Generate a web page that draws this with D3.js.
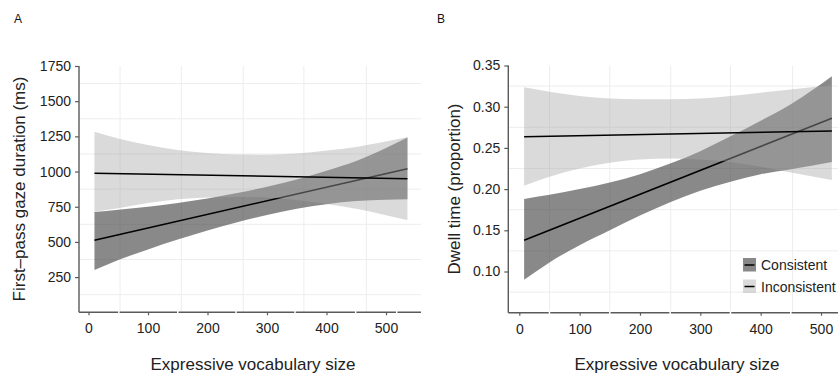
<!DOCTYPE html>
<html><head><meta charset="utf-8">
<script src="https://cdn.jsdelivr.net/npm/d3@7"></script>
<style>body{margin:0;background:#fff}svg{display:block;font-family:"Liberation Sans",Arial,sans-serif}</style>
</head><body><svg id="c" width="838" height="374"></svg>
<script>
// ---------- data ----------
const xTicks = [0, 100, 200, 300, 400, 500];
const yTicksA = [250, 500, 750, 1000, 1250, 1500, 1750];
const yTicksB = [0.10, 0.15, 0.20, 0.25, 0.30, 0.35];
const seriesNames = ["Consistent", "Inconsistent"];

// Panel A: first-pass gaze duration
const xsA = [10, 50, 100, 150, 200, 250, 300, 350, 400, 450, 500, 536];
const consA_upper = [712, 728, 750, 777, 809, 848, 892, 944, 1006, 1075, 1167, 1242];
const consA_lower = [300, 371, 447, 517, 581, 640, 692, 736, 768, 790, 800, 803];
const consA_fitX = [10, 536];
const consA_fit = [512, 1020];
const inconsA_upper = [1282, 1235, 1188, 1153, 1132, 1121, 1120, 1128, 1149, 1175, 1214, 1243];
const inconsA_lower = [715, 740, 776, 803, 816, 820, 815, 798, 769, 735, 690, 655];
const inconsA_fitX = [10, 536];
const inconsA_fit = [988, 949];
const gridXA = [53, 156, 260, 362, 467];
const gridYA = [125, 375, 625, 875, 1125, 1375, 1625];
const gapXA = [51, 150, 248, 347, 449, 518];

// Panel B: dwell time
const xsB = [8, 50, 100, 150, 200, 250, 300, 350, 400, 450, 518];
const consB_upper = [0.188, 0.193, 0.200, 0.208, 0.218, 0.231, 0.246, 0.264, 0.283, 0.303, 0.337];
const consB_lower = [0.090, 0.111, 0.132, 0.150, 0.168, 0.184, 0.198, 0.209, 0.218, 0.224, 0.233];
const consB_fitX = [8, 518];
const consB_fit = [0.138, 0.286];
const inconsB_upper = [0.3235, 0.318, 0.313, 0.310, 0.309, 0.309, 0.310, 0.313, 0.317, 0.321, 0.326];
const inconsB_lower = [0.204, 0.215, 0.225, 0.232, 0.236, 0.237, 0.236, 0.233, 0.227, 0.220, 0.211];
const inconsB_fitX = [8, 518];
const inconsB_fit = [0.2636, 0.2705];
const gridXB = [50, 150, 251, 350, 453];
const gridYB = [0.075, 0.125, 0.175, 0.225, 0.275, 0.325];
const gapXB = [50, 150, 250, 350, 450];

// ---------- drawing ----------
const svg = d3.select("#c");
const DARK = {fill: "#3a3a3a", op: 0.6};
const LIGHT = {fill: "#a8a8a8", op: 0.42};

function panel(o) {
  const g = svg.append("g");
  const x = d3.scaleLinear().domain([0, 500]).range(o.xr);
  const y = d3.scaleLinear().domain(o.yd).range(o.yr);
  const top = o.yr[1], bot = o.yr[0];
  // grid
  g.selectAll(".gy").data(o.gridY).join("line")
    .attr("x1", o.left).attr("x2", o.right).attr("y1", d => y(d)).attr("y2", d => y(d))
    .attr("stroke", "#ededed").attr("stroke-width", 1);
  g.selectAll(".gx").data(o.gridX).join("line")
    .attr("x1", d => x(d)).attr("x2", d => x(d)).attr("y1", top).attr("y2", bot)
    .attr("stroke", "#ededed").attr("stroke-width", 1);

  const area = (up, lo) => d3.area().curve(d3.curveMonotoneX)
      .x((d, i) => x(o.xs[i])).y0((d, i) => y(lo[i])).y1(d => y(d))(up);
  const line = (xs, vs) => d3.line().x((d, i) => x(xs[i])).y(d => y(d))(vs);

  g.append("path").attr("d", area(o.cu, o.cl)).attr("fill", DARK.fill).attr("fill-opacity", DARK.op);
  g.append("path").attr("d", line(o.cfx, o.cf)).attr("stroke", "#000").attr("stroke-width", 1.5).attr("fill", "none");
  g.append("path").attr("d", area(o.iu, o.il)).attr("fill", LIGHT.fill).attr("fill-opacity", LIGHT.op);
  g.append("path").attr("d", line(o.ifx, o.if)).attr("stroke", "#000").attr("stroke-width", 1.5).attr("fill", "none");

  // axes
  const ax = g.append("g").attr("transform", `translate(0,${bot})`)
    .call(d3.axisBottom(x).tickValues(xTicks).tickSize(3).tickSizeOuter(0).tickPadding(8));
  ax.select(".domain").remove();
  ax.append("line").attr("x1", o.left).attr("x2", o.right).attr("stroke", "#5a5a5a").attr("stroke-width", 1.4);
  ax.selectAll(".gap").data(o.gaps).join("line").attr("class", "gap")
    .attr("x1", d => x(d)).attr("x2", d => x(d)).attr("y1", -1.5).attr("y2", 1.5)
    .attr("stroke", "#fff").attr("stroke-width", 1.5);
  ax.selectAll(".tick line").attr("stroke", "#5a5a5a").attr("stroke-width", 1.2);
  ax.selectAll(".tick text").attr("font-size", 14).attr("fill", "#222").attr("font-family", '"Liberation Sans",Arial,sans-serif');

  const ay = g.append("g").attr("transform", `translate(${o.left},0)`)
    .call(d3.axisLeft(y).tickValues(o.yTicks).tickFormat(o.fmt).tickSize(4).tickSizeOuter(0).tickPadding(4));
  ay.select(".domain").remove();
  ay.append("line").attr("y1", top).attr("y2", bot).attr("stroke", "#5a5a5a").attr("stroke-width", 1.4);
  ay.selectAll(".tick line").attr("stroke", "#5a5a5a").attr("stroke-width", 1.2);
  ay.selectAll(".tick text").attr("font-size", 14).attr("fill", "#222").attr("font-family", '"Liberation Sans",Arial,sans-serif');

  // titles
  svg.append("text").attr("x", o.tagX).attr("y", 23).attr("font-size", 12).attr("fill", "#111").text(o.tag);
  svg.append("text").attr("x", o.xtX).attr("y", 370).attr("text-anchor", "middle").attr("font-size", 17).attr("fill", "#222")
    .text("Expressive vocabulary size");
  svg.append("text").attr("transform", `translate(${o.ytX},189) rotate(-90)`).attr("text-anchor", "middle")
    .attr("font-size", 17).attr("fill", "#222").text(o.ytitle);
  return {g, x, y};
}

panel({xr: [88.5, 386], yd: [0, 1750], yr: [312.3, 66], left: 79, right: 421,
  gridX: gridXA, gridY: gridYA, gaps: gapXA, xs: xsA,
  cu: consA_upper, cl: consA_lower, cfx: consA_fitX, cf: consA_fit,
  iu: inconsA_upper, il: inconsA_lower, ifx: inconsA_fitX, if: inconsA_fit,
  yTicks: yTicksA, fmt: d3.format("d"), tag: "A", tagX: 14, xtX: 253, ytX: 25,
  ytitle: "First–pass gaze duration (ms)"});

panel({xr: [519.3, 821], yd: [0.05, 0.35], yr: [312.7, 65.5], left: 508.3, right: 838,
  gridX: gridXB, gridY: gridYB, gaps: gapXB, xs: xsB,
  cu: consB_upper, cl: consB_lower, cfx: consB_fitX, cf: consB_fit,
  iu: inconsB_upper, il: inconsB_lower, ifx: inconsB_fitX, if: inconsB_fit,
  yTicks: yTicksB, fmt: d3.format(".2f"), tag: "B", tagX: 437, xtX: 677, ytX: 460,
  ytitle: "Dwell time (proportion)"});

// legend
const leg = svg.append("g").attr("transform", "translate(743,258)");
const keyStyles = [DARK, LIGHT];
seriesNames.forEach((name, i) => {
  const r = leg.append("g").attr("transform", `translate(0,${i * 21.5})`);
  r.append("rect").attr("width", 13).attr("height", 13.5).attr("fill", keyStyles[i].fill).attr("fill-opacity", keyStyles[i].op);
  r.append("line").attr("x1", 1.5).attr("x2", 11.5).attr("y1", 7).attr("y2", 7).attr("stroke", "#000").attr("stroke-width", 1.5);
  r.append("text").attr("x", 18).attr("y", 12).attr("font-size", 14).attr("fill", "#222").text(name);
});
</script></body></html>
